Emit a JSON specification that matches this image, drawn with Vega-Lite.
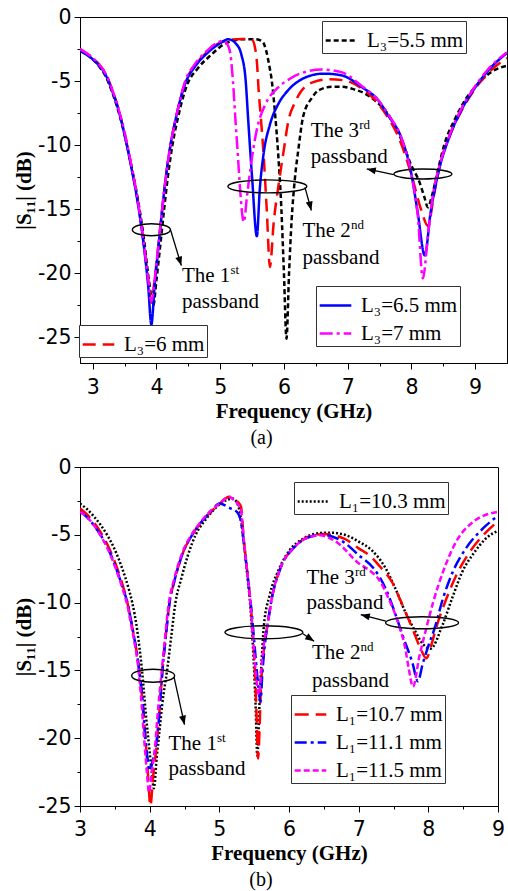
{
  "$schema": "https://vega.github.io/schema/vega-lite/v6.json",
  "background": "white",
  "padding": {"left": 13, "top": 6, "right": 5, "bottom": 5},
  "spacing": 8,
  "config": {
    "view": {"stroke": "black", "strokeWidth": 1},
    "axis": {
      "grid": false, "domainColor": "black", "domainWidth": 1, "tickColor": "black", "tickWidth": 1,
      "labelFont": "DejaVu Sans", "labelFontSize": 20.5, "labelColor": "black",
      "labelFlush": false, "labelOverlap": false, "labelBound": false,
      "titleFont": "Liberation Serif", "titleFontSize": 21, "titleFontWeight": "bold", "titleColor": "black"
    },
    "legend": {
      "symbolType": "stroke", "symbolSize": 1000, "symbolStrokeWidth": 2.5,
      "labelFont": "Liberation Serif", "labelFontSize": 21, "labelColor": "black", "labelLimit": 400,
      "strokeColor": "#333333", "fillColor": "white", "padding": 2, "rowPadding": 0, "labelOffset": 8
    },
    "title": {"font": "Liberation Serif", "fontSize": 20, "fontWeight": "normal", "color": "black"}
  },
  "datasets": {
    "a1": [
      {"s":"L₃=5.5 mm","x":2.8,"y":-2.6},{"s":"L₃=5.5 mm","x":3.0,"y":-3.3},{"s":"L₃=5.5 mm","x":3.1,"y":-3.85},{"s":"L₃=5.5 mm","x":3.2,"y":-4.6},{"s":"L₃=5.5 mm","x":3.3,"y":-5.8},{"s":"L₃=5.5 mm","x":3.4,"y":-7.3},{"s":"L₃=5.5 mm","x":3.5,"y":-9.2},{"s":"L₃=5.5 mm","x":3.6,"y":-11.5},{"s":"L₃=5.5 mm","x":3.7,"y":-14.0},{"s":"L₃=5.5 mm","x":3.8,"y":-17.2},{"s":"L₃=5.5 mm","x":3.88,"y":-20.5},{"s":"L₃=5.5 mm","x":3.95,"y":-22.5},{"s":"L₃=5.5 mm","x":4.0,"y":-20.5},{"s":"L₃=5.5 mm","x":4.06,"y":-17.8},{"s":"L₃=5.5 mm","x":4.12,"y":-15},{"s":"L₃=5.5 mm","x":4.18,"y":-12.4},{"s":"L₃=5.5 mm","x":4.25,"y":-10},{"s":"L₃=5.5 mm","x":4.33,"y":-8.0},{"s":"L₃=5.5 mm","x":4.48,"y":-5.3},{"s":"L₃=5.5 mm","x":4.65,"y":-4.0},{"s":"L₃=5.5 mm","x":4.87,"y":-2.9},{"s":"L₃=5.5 mm","x":5.05,"y":-2.15},{"s":"L₃=5.5 mm","x":5.2,"y":-1.85},{"s":"L₃=5.5 mm","x":5.35,"y":-1.74},{"s":"L₃=5.5 mm","x":5.55,"y":-1.74},{"s":"L₃=5.5 mm","x":5.66,"y":-1.9},{"s":"L₃=5.5 mm","x":5.72,"y":-2.6},{"s":"L₃=5.5 mm","x":5.77,"y":-3.8},{"s":"L₃=5.5 mm","x":5.81,"y":-5.0},{"s":"L₃=5.5 mm","x":5.86,"y":-7.5},{"s":"L₃=5.5 mm","x":5.91,"y":-10.7},{"s":"L₃=5.5 mm","x":5.96,"y":-15},{"s":"L₃=5.5 mm","x":6.0,"y":-20},{"s":"L₃=5.5 mm","x":6.04,"y":-25.1},{"s":"L₃=5.5 mm","x":6.08,"y":-20},{"s":"L₃=5.5 mm","x":6.12,"y":-15.9},{"s":"L₃=5.5 mm","x":6.17,"y":-12.7},{"s":"L₃=5.5 mm","x":6.23,"y":-10.2},{"s":"L₃=5.5 mm","x":6.3,"y":-7.8},{"s":"L₃=5.5 mm","x":6.44,"y":-6.3},{"s":"L₃=5.5 mm","x":6.55,"y":-5.7},{"s":"L₃=5.5 mm","x":6.75,"y":-5.45},{"s":"L₃=5.5 mm","x":6.92,"y":-5.45},{"s":"L₃=5.5 mm","x":7.1,"y":-5.65},{"s":"L₃=5.5 mm","x":7.28,"y":-6.0},{"s":"L₃=5.5 mm","x":7.45,"y":-6.6},{"s":"L₃=5.5 mm","x":7.59,"y":-7.3},{"s":"L₃=5.5 mm","x":7.72,"y":-8.3},{"s":"L₃=5.5 mm","x":7.85,"y":-9.66},{"s":"L₃=5.5 mm","x":8.0,"y":-11.6},{"s":"L₃=5.5 mm","x":8.12,"y":-12.8},{"s":"L₃=5.5 mm","x":8.2,"y":-14.0},{"s":"L₃=5.5 mm","x":8.26,"y":-14.85},{"s":"L₃=5.5 mm","x":8.32,"y":-14.0},{"s":"L₃=5.5 mm","x":8.4,"y":-12.3},{"s":"L₃=5.5 mm","x":8.52,"y":-9.9},{"s":"L₃=5.5 mm","x":8.68,"y":-8.0},{"s":"L₃=5.5 mm","x":8.84,"y":-6.5},{"s":"L₃=5.5 mm","x":9.05,"y":-5.2},{"s":"L₃=5.5 mm","x":9.25,"y":-4.3},{"s":"L₃=5.5 mm","x":9.5,"y":-3.8}
    ],
    "a2": [
      {"s":"L₃=6 mm","x":2.8,"y":-2.5},{"s":"L₃=6 mm","x":3.0,"y":-3.2},{"s":"L₃=6 mm","x":3.1,"y":-3.7},{"s":"L₃=6 mm","x":3.2,"y":-4.4},{"s":"L₃=6 mm","x":3.3,"y":-5.6},{"s":"L₃=6 mm","x":3.4,"y":-7.1},{"s":"L₃=6 mm","x":3.5,"y":-9.1},{"s":"L₃=6 mm","x":3.6,"y":-11.5},{"s":"L₃=6 mm","x":3.7,"y":-14.2},{"s":"L₃=6 mm","x":3.8,"y":-17.7},{"s":"L₃=6 mm","x":3.87,"y":-20.5},{"s":"L₃=6 mm","x":3.92,"y":-22.3},{"s":"L₃=6 mm","x":3.97,"y":-20.5},{"s":"L₃=6 mm","x":4.03,"y":-17.8},{"s":"L₃=6 mm","x":4.09,"y":-15},{"s":"L₃=6 mm","x":4.15,"y":-12.4},{"s":"L₃=6 mm","x":4.22,"y":-10},{"s":"L₃=6 mm","x":4.3,"y":-8.0},{"s":"L₃=6 mm","x":4.45,"y":-5.1},{"s":"L₃=6 mm","x":4.6,"y":-3.8},{"s":"L₃=6 mm","x":4.8,"y":-2.7},{"s":"L₃=6 mm","x":5.0,"y":-2.0},{"s":"L₃=6 mm","x":5.18,"y":-1.76},{"s":"L₃=6 mm","x":5.35,"y":-1.72},{"s":"L₃=6 mm","x":5.5,"y":-1.8},{"s":"L₃=6 mm","x":5.55,"y":-2.5},{"s":"L₃=6 mm","x":5.58,"y":-3.8},{"s":"L₃=6 mm","x":5.6,"y":-5.5},{"s":"L₃=6 mm","x":5.64,"y":-8.0},{"s":"L₃=6 mm","x":5.68,"y":-10.7},{"s":"L₃=6 mm","x":5.73,"y":-15},{"s":"L₃=6 mm","x":5.78,"y":-19.5},{"s":"L₃=6 mm","x":5.84,"y":-16},{"s":"L₃=6 mm","x":5.91,"y":-13.3},{"s":"L₃=6 mm","x":6.0,"y":-10.3},{"s":"L₃=6 mm","x":6.07,"y":-8.1},{"s":"L₃=6 mm","x":6.17,"y":-6.7},{"s":"L₃=6 mm","x":6.27,"y":-5.8},{"s":"L₃=6 mm","x":6.45,"y":-5.1},{"s":"L₃=6 mm","x":6.71,"y":-4.85},{"s":"L₃=6 mm","x":6.95,"y":-4.95},{"s":"L₃=6 mm","x":7.23,"y":-5.6},{"s":"L₃=6 mm","x":7.45,"y":-6.6},{"s":"L₃=6 mm","x":7.6,"y":-7.6},{"s":"L₃=6 mm","x":7.8,"y":-9.4},{"s":"L₃=6 mm","x":8.0,"y":-12.3},{"s":"L₃=6 mm","x":8.15,"y":-15.0},{"s":"L₃=6 mm","x":8.26,"y":-16.3},{"s":"L₃=6 mm","x":8.35,"y":-14.0},{"s":"L₃=6 mm","x":8.45,"y":-11.5},{"s":"L₃=6 mm","x":8.6,"y":-9.3},{"s":"L₃=6 mm","x":8.8,"y":-7.2},{"s":"L₃=6 mm","x":9.0,"y":-5.6},{"s":"L₃=6 mm","x":9.2,"y":-4.4},{"s":"L₃=6 mm","x":9.5,"y":-3.2}
    ],
    "a3": [
      {"s":"L₃=6.5 mm","x":2.8,"y":-2.65},{"s":"L₃=6.5 mm","x":3.0,"y":-3.3},{"s":"L₃=6.5 mm","x":3.1,"y":-3.8},{"s":"L₃=6.5 mm","x":3.2,"y":-4.5},{"s":"L₃=6.5 mm","x":3.3,"y":-5.7},{"s":"L₃=6.5 mm","x":3.4,"y":-7.2},{"s":"L₃=6.5 mm","x":3.5,"y":-9.2},{"s":"L₃=6.5 mm","x":3.6,"y":-11.6},{"s":"L₃=6.5 mm","x":3.7,"y":-14.3},{"s":"L₃=6.5 mm","x":3.8,"y":-17.8},{"s":"L₃=6.5 mm","x":3.87,"y":-21},{"s":"L₃=6.5 mm","x":3.92,"y":-24.0},{"s":"L₃=6.5 mm","x":3.97,"y":-21},{"s":"L₃=6.5 mm","x":4.03,"y":-18},{"s":"L₃=6.5 mm","x":4.09,"y":-15},{"s":"L₃=6.5 mm","x":4.15,"y":-12.4},{"s":"L₃=6.5 mm","x":4.22,"y":-10},{"s":"L₃=6.5 mm","x":4.3,"y":-8.0},{"s":"L₃=6.5 mm","x":4.45,"y":-5.2},{"s":"L₃=6.5 mm","x":4.6,"y":-3.9},{"s":"L₃=6.5 mm","x":4.8,"y":-2.8},{"s":"L₃=6.5 mm","x":5.0,"y":-2.05},{"s":"L₃=6.5 mm","x":5.13,"y":-1.74},{"s":"L₃=6.5 mm","x":5.25,"y":-2.1},{"s":"L₃=6.5 mm","x":5.33,"y":-2.9},{"s":"L₃=6.5 mm","x":5.4,"y":-5.0},{"s":"L₃=6.5 mm","x":5.44,"y":-8.1},{"s":"L₃=6.5 mm","x":5.5,"y":-12.5},{"s":"L₃=6.5 mm","x":5.575,"y":-17.1},{"s":"L₃=6.5 mm","x":5.62,"y":-13.5},{"s":"L₃=6.5 mm","x":5.68,"y":-10.7},{"s":"L₃=6.5 mm","x":5.78,"y":-8.4},{"s":"L₃=6.5 mm","x":5.91,"y":-6.8},{"s":"L₃=6.5 mm","x":6.05,"y":-5.8},{"s":"L₃=6.5 mm","x":6.23,"y":-5.0},{"s":"L₃=6.5 mm","x":6.4,"y":-4.6},{"s":"L₃=6.5 mm","x":6.62,"y":-4.42},{"s":"L₃=6.5 mm","x":6.9,"y":-4.55},{"s":"L₃=6.5 mm","x":7.23,"y":-5.5},{"s":"L₃=6.5 mm","x":7.48,"y":-6.5},{"s":"L₃=6.5 mm","x":7.65,"y":-7.8},{"s":"L₃=6.5 mm","x":7.84,"y":-9.4},{"s":"L₃=6.5 mm","x":8.0,"y":-12.25},{"s":"L₃=6.5 mm","x":8.1,"y":-15.3},{"s":"L₃=6.5 mm","x":8.21,"y":-18.6},{"s":"L₃=6.5 mm","x":8.3,"y":-15.3},{"s":"L₃=6.5 mm","x":8.42,"y":-12.2},{"s":"L₃=6.5 mm","x":8.6,"y":-9.3},{"s":"L₃=6.5 mm","x":8.78,"y":-7.3},{"s":"L₃=6.5 mm","x":9.0,"y":-5.5},{"s":"L₃=6.5 mm","x":9.2,"y":-4.2},{"s":"L₃=6.5 mm","x":9.5,"y":-2.8},
      {"s":"L₃=7 mm","x":2.8,"y":-2.5},{"s":"L₃=7 mm","x":3.0,"y":-3.2},{"s":"L₃=7 mm","x":3.1,"y":-3.7},{"s":"L₃=7 mm","x":3.2,"y":-4.4},{"s":"L₃=7 mm","x":3.3,"y":-5.6},{"s":"L₃=7 mm","x":3.4,"y":-7.1},{"s":"L₃=7 mm","x":3.5,"y":-9.0},{"s":"L₃=7 mm","x":3.6,"y":-11.4},{"s":"L₃=7 mm","x":3.7,"y":-14.1},{"s":"L₃=7 mm","x":3.8,"y":-17.6},{"s":"L₃=7 mm","x":3.87,"y":-20.5},{"s":"L₃=7 mm","x":3.92,"y":-22.2},{"s":"L₃=7 mm","x":3.97,"y":-20.5},{"s":"L₃=7 mm","x":4.03,"y":-17.8},{"s":"L₃=7 mm","x":4.09,"y":-15},{"s":"L₃=7 mm","x":4.15,"y":-12.4},{"s":"L₃=7 mm","x":4.22,"y":-10},{"s":"L₃=7 mm","x":4.3,"y":-8.0},{"s":"L₃=7 mm","x":4.45,"y":-5.0},{"s":"L₃=7 mm","x":4.6,"y":-3.7},{"s":"L₃=7 mm","x":4.8,"y":-2.6},{"s":"L₃=7 mm","x":4.95,"y":-2.0},{"s":"L₃=7 mm","x":5.05,"y":-1.85},{"s":"L₃=7 mm","x":5.12,"y":-2.2},{"s":"L₃=7 mm","x":5.16,"y":-2.9},{"s":"L₃=7 mm","x":5.2,"y":-5.0},{"s":"L₃=7 mm","x":5.24,"y":-8.1},{"s":"L₃=7 mm","x":5.28,"y":-11},{"s":"L₃=7 mm","x":5.31,"y":-13.3},{"s":"L₃=7 mm","x":5.37,"y":-16.0},{"s":"L₃=7 mm","x":5.42,"y":-14},{"s":"L₃=7 mm","x":5.47,"y":-12},{"s":"L₃=7 mm","x":5.57,"y":-8.9},{"s":"L₃=7 mm","x":5.71,"y":-6.8},{"s":"L₃=7 mm","x":5.91,"y":-5.5},{"s":"L₃=7 mm","x":6.1,"y":-4.8},{"s":"L₃=7 mm","x":6.23,"y":-4.46},{"s":"L₃=7 mm","x":6.6,"y":-4.1},{"s":"L₃=7 mm","x":6.9,"y":-4.3},{"s":"L₃=7 mm","x":7.2,"y":-5.3},{"s":"L₃=7 mm","x":7.48,"y":-6.5},{"s":"L₃=7 mm","x":7.65,"y":-7.7},{"s":"L₃=7 mm","x":7.84,"y":-9.4},{"s":"L₃=7 mm","x":8.0,"y":-12.3},{"s":"L₃=7 mm","x":8.1,"y":-15.5},{"s":"L₃=7 mm","x":8.18,"y":-20.4},{"s":"L₃=7 mm","x":8.26,"y":-17},{"s":"L₃=7 mm","x":8.35,"y":-13.5},{"s":"L₃=7 mm","x":8.42,"y":-12},{"s":"L₃=7 mm","x":8.6,"y":-9.2},{"s":"L₃=7 mm","x":8.78,"y":-7.2},{"s":"L₃=7 mm","x":9.0,"y":-5.4},{"s":"L₃=7 mm","x":9.2,"y":-4.1},{"s":"L₃=7 mm","x":9.5,"y":-2.75}
    ],
    "b1": [
      {"s":"L₁=10.3 mm","x":3.0,"y":-2.7},{"s":"L₁=10.3 mm","x":3.1,"y":-3.1},{"s":"L₁=10.3 mm","x":3.2,"y":-3.65},{"s":"L₁=10.3 mm","x":3.3,"y":-4.3},{"s":"L₁=10.3 mm","x":3.4,"y":-5.1},{"s":"L₁=10.3 mm","x":3.5,"y":-6.1},{"s":"L₁=10.3 mm","x":3.6,"y":-7.4},{"s":"L₁=10.3 mm","x":3.7,"y":-9.0},{"s":"L₁=10.3 mm","x":3.75,"y":-10.0},{"s":"L₁=10.3 mm","x":3.82,"y":-12.0},{"s":"L₁=10.3 mm","x":3.89,"y":-15.0},{"s":"L₁=10.3 mm","x":3.95,"y":-18.5},{"s":"L₁=10.3 mm","x":3.99,"y":-20.5},{"s":"L₁=10.3 mm","x":4.03,"y":-22.5},{"s":"L₁=10.3 mm","x":4.06,"y":-23.7},{"s":"L₁=10.3 mm","x":4.1,"y":-21.5},{"s":"L₁=10.3 mm","x":4.14,"y":-19.5},{"s":"L₁=10.3 mm","x":4.18,"y":-17.5},{"s":"L₁=10.3 mm","x":4.25,"y":-15.0},{"s":"L₁=10.3 mm","x":4.31,"y":-12.5},{"s":"L₁=10.3 mm","x":4.37,"y":-10.0},{"s":"L₁=10.3 mm","x":4.45,"y":-8.3},{"s":"L₁=10.3 mm","x":4.55,"y":-6.5},{"s":"L₁=10.3 mm","x":4.66,"y":-5.0},{"s":"L₁=10.3 mm","x":4.8,"y":-3.9},{"s":"L₁=10.3 mm","x":4.95,"y":-3.0},{"s":"L₁=10.3 mm","x":5.1,"y":-2.45},{"s":"L₁=10.3 mm","x":5.19,"y":-2.33},{"s":"L₁=10.3 mm","x":5.25,"y":-2.6},{"s":"L₁=10.3 mm","x":5.3,"y":-3.5},{"s":"L₁=10.3 mm","x":5.35,"y":-5.5},{"s":"L₁=10.3 mm","x":5.4,"y":-7.8},{"s":"L₁=10.3 mm","x":5.45,"y":-10.6},{"s":"L₁=10.3 mm","x":5.49,"y":-14},{"s":"L₁=10.3 mm","x":5.52,"y":-17.5},{"s":"L₁=10.3 mm","x":5.545,"y":-21.3},{"s":"L₁=10.3 mm","x":5.58,"y":-17},{"s":"L₁=10.3 mm","x":5.61,"y":-14},{"s":"L₁=10.3 mm","x":5.64,"y":-11.7},{"s":"L₁=10.3 mm","x":5.72,"y":-9.5},{"s":"L₁=10.3 mm","x":5.85,"y":-7.6},{"s":"L₁=10.3 mm","x":6.0,"y":-6.2},{"s":"L₁=10.3 mm","x":6.2,"y":-5.3},{"s":"L₁=10.3 mm","x":6.4,"y":-4.9},{"s":"L₁=10.3 mm","x":6.58,"y":-4.84},{"s":"L₁=10.3 mm","x":6.8,"y":-5.0},{"s":"L₁=10.3 mm","x":7.0,"y":-5.5},{"s":"L₁=10.3 mm","x":7.19,"y":-6.15},{"s":"L₁=10.3 mm","x":7.39,"y":-7.5},{"s":"L₁=10.3 mm","x":7.53,"y":-9.0},{"s":"L₁=10.3 mm","x":7.67,"y":-10.7},{"s":"L₁=10.3 mm","x":7.79,"y":-11.9},{"s":"L₁=10.3 mm","x":7.93,"y":-13.1},{"s":"L₁=10.3 mm","x":8.03,"y":-13.4},{"s":"L₁=10.3 mm","x":8.2,"y":-11.7},{"s":"L₁=10.3 mm","x":8.34,"y":-9.7},{"s":"L₁=10.3 mm","x":8.49,"y":-7.7},{"s":"L₁=10.3 mm","x":8.66,"y":-6.3},{"s":"L₁=10.3 mm","x":8.82,"y":-5.3},{"s":"L₁=10.3 mm","x":9.0,"y":-4.7}
    ],
    "b2": [
      {"s":"L₁=10.7 mm","x":3.0,"y":-3.05},{"s":"L₁=10.7 mm","x":3.1,"y":-3.5},{"s":"L₁=10.7 mm","x":3.2,"y":-4.1},{"s":"L₁=10.7 mm","x":3.3,"y":-4.85},{"s":"L₁=10.7 mm","x":3.4,"y":-5.8},{"s":"L₁=10.7 mm","x":3.5,"y":-7.0},{"s":"L₁=10.7 mm","x":3.6,"y":-8.5},{"s":"L₁=10.7 mm","x":3.68,"y":-10.0},{"s":"L₁=10.7 mm","x":3.75,"y":-11.8},{"s":"L₁=10.7 mm","x":3.85,"y":-15.0},{"s":"L₁=10.7 mm","x":3.9,"y":-17.5},{"s":"L₁=10.7 mm","x":3.94,"y":-20.0},{"s":"L₁=10.7 mm","x":3.98,"y":-23},{"s":"L₁=10.7 mm","x":4.01,"y":-25},{"s":"L₁=10.7 mm","x":4.05,"y":-22.8},{"s":"L₁=10.7 mm","x":4.1,"y":-20.5},{"s":"L₁=10.7 mm","x":4.14,"y":-18},{"s":"L₁=10.7 mm","x":4.18,"y":-15.2},{"s":"L₁=10.7 mm","x":4.23,"y":-12.5},{"s":"L₁=10.7 mm","x":4.28,"y":-10.2},{"s":"L₁=10.7 mm","x":4.36,"y":-8.3},{"s":"L₁=10.7 mm","x":4.48,"y":-6.3},{"s":"L₁=10.7 mm","x":4.61,"y":-5.0},{"s":"L₁=10.7 mm","x":4.75,"y":-4.0},{"s":"L₁=10.7 mm","x":4.9,"y":-3.2},{"s":"L₁=10.7 mm","x":5.0,"y":-2.75},{"s":"L₁=10.7 mm","x":5.08,"y":-2.35},{"s":"L₁=10.7 mm","x":5.14,"y":-2.2},{"s":"L₁=10.7 mm","x":5.2,"y":-2.3},{"s":"L₁=10.7 mm","x":5.27,"y":-2.6},{"s":"L₁=10.7 mm","x":5.31,"y":-2.9},{"s":"L₁=10.7 mm","x":5.35,"y":-5.3},{"s":"L₁=10.7 mm","x":5.4,"y":-7.7},{"s":"L₁=10.7 mm","x":5.45,"y":-10.2},{"s":"L₁=10.7 mm","x":5.5,"y":-13.9},{"s":"L₁=10.7 mm","x":5.53,"y":-17.6},{"s":"L₁=10.7 mm","x":5.555,"y":-21.5},{"s":"L₁=10.7 mm","x":5.6,"y":-16},{"s":"L₁=10.7 mm","x":5.65,"y":-13},{"s":"L₁=10.7 mm","x":5.69,"y":-11.7},{"s":"L₁=10.7 mm","x":5.76,"y":-9.5},{"s":"L₁=10.7 mm","x":5.86,"y":-7.7},{"s":"L₁=10.7 mm","x":6.1,"y":-5.8},{"s":"L₁=10.7 mm","x":6.3,"y":-5.1},{"s":"L₁=10.7 mm","x":6.5,"y":-4.95},{"s":"L₁=10.7 mm","x":6.8,"y":-5.3},{"s":"L₁=10.7 mm","x":7.0,"y":-6.0},{"s":"L₁=10.7 mm","x":7.15,"y":-6.5},{"s":"L₁=10.7 mm","x":7.29,"y":-7.25},{"s":"L₁=10.7 mm","x":7.48,"y":-8.5},{"s":"L₁=10.7 mm","x":7.63,"y":-10.2},{"s":"L₁=10.7 mm","x":7.77,"y":-11.9},{"s":"L₁=10.7 mm","x":7.89,"y":-13.4},{"s":"L₁=10.7 mm","x":7.97,"y":-14.1},{"s":"L₁=10.7 mm","x":8.05,"y":-13.0},{"s":"L₁=10.7 mm","x":8.11,"y":-11.9},{"s":"L₁=10.7 mm","x":8.26,"y":-9.7},{"s":"L₁=10.7 mm","x":8.4,"y":-8.0},{"s":"L₁=10.7 mm","x":8.59,"y":-6.3},{"s":"L₁=10.7 mm","x":8.83,"y":-4.8},{"s":"L₁=10.7 mm","x":9.0,"y":-4.0},
      {"s":"L₁=11.1 mm","x":3.0,"y":-3.3},{"s":"L₁=11.1 mm","x":3.1,"y":-3.7},{"s":"L₁=11.1 mm","x":3.2,"y":-4.3},{"s":"L₁=11.1 mm","x":3.3,"y":-5.05},{"s":"L₁=11.1 mm","x":3.4,"y":-6.0},{"s":"L₁=11.1 mm","x":3.5,"y":-7.2},{"s":"L₁=11.1 mm","x":3.6,"y":-8.7},{"s":"L₁=11.1 mm","x":3.68,"y":-10.0},{"s":"L₁=11.1 mm","x":3.75,"y":-11.8},{"s":"L₁=11.1 mm","x":3.85,"y":-15},{"s":"L₁=11.1 mm","x":3.9,"y":-17.3},{"s":"L₁=11.1 mm","x":3.93,"y":-19.5},{"s":"L₁=11.1 mm","x":3.97,"y":-21.5},{"s":"L₁=11.1 mm","x":4.0,"y":-22.4},{"s":"L₁=11.1 mm","x":4.05,"y":-21.5},{"s":"L₁=11.1 mm","x":4.11,"y":-19.8},{"s":"L₁=11.1 mm","x":4.15,"y":-17.5},{"s":"L₁=11.1 mm","x":4.18,"y":-15.2},{"s":"L₁=11.1 mm","x":4.23,"y":-12.6},{"s":"L₁=11.1 mm","x":4.28,"y":-10.2},{"s":"L₁=11.1 mm","x":4.36,"y":-8.3},{"s":"L₁=11.1 mm","x":4.48,"y":-6.3},{"s":"L₁=11.1 mm","x":4.61,"y":-5.0},{"s":"L₁=11.1 mm","x":4.75,"y":-4.0},{"s":"L₁=11.1 mm","x":4.88,"y":-3.3},{"s":"L₁=11.1 mm","x":5.0,"y":-2.7},{"s":"L₁=11.1 mm","x":5.16,"y":-3.05},{"s":"L₁=11.1 mm","x":5.25,"y":-3.3},{"s":"L₁=11.1 mm","x":5.3,"y":-3.8},{"s":"L₁=11.1 mm","x":5.35,"y":-5.5},{"s":"L₁=11.1 mm","x":5.4,"y":-7.8},{"s":"L₁=11.1 mm","x":5.46,"y":-10.5},{"s":"L₁=11.1 mm","x":5.52,"y":-14},{"s":"L₁=11.1 mm","x":5.56,"y":-16.2},{"s":"L₁=11.1 mm","x":5.59,"y":-17.3},{"s":"L₁=11.1 mm","x":5.62,"y":-15},{"s":"L₁=11.1 mm","x":5.66,"y":-12.8},{"s":"L₁=11.1 mm","x":5.69,"y":-11.7},{"s":"L₁=11.1 mm","x":5.76,"y":-9.5},{"s":"L₁=11.1 mm","x":5.86,"y":-7.7},{"s":"L₁=11.1 mm","x":6.1,"y":-5.8},{"s":"L₁=11.1 mm","x":6.3,"y":-5.15},{"s":"L₁=11.1 mm","x":6.47,"y":-5.0},{"s":"L₁=11.1 mm","x":6.8,"y":-5.6},{"s":"L₁=11.1 mm","x":7.0,"y":-6.5},{"s":"L₁=11.1 mm","x":7.22,"y":-7.5},{"s":"L₁=11.1 mm","x":7.39,"y":-9.0},{"s":"L₁=11.1 mm","x":7.53,"y":-10.9},{"s":"L₁=11.1 mm","x":7.65,"y":-12.7},{"s":"L₁=11.1 mm","x":7.77,"y":-14.4},{"s":"L₁=11.1 mm","x":7.85,"y":-15.8},{"s":"L₁=11.1 mm","x":7.92,"y":-14.5},{"s":"L₁=11.1 mm","x":8.0,"y":-13.2},{"s":"L₁=11.1 mm","x":8.09,"y":-11.9},{"s":"L₁=11.1 mm","x":8.21,"y":-9.7},{"s":"L₁=11.1 mm","x":8.35,"y":-7.74},{"s":"L₁=11.1 mm","x":8.54,"y":-6.0},{"s":"L₁=11.1 mm","x":8.78,"y":-4.55},{"s":"L₁=11.1 mm","x":9.0,"y":-3.6},
      {"s":"L₁=11.5 mm","x":3.0,"y":-3.3},{"s":"L₁=11.5 mm","x":3.1,"y":-3.7},{"s":"L₁=11.5 mm","x":3.2,"y":-4.3},{"s":"L₁=11.5 mm","x":3.3,"y":-5.1},{"s":"L₁=11.5 mm","x":3.4,"y":-6.05},{"s":"L₁=11.5 mm","x":3.5,"y":-7.3},{"s":"L₁=11.5 mm","x":3.6,"y":-8.8},{"s":"L₁=11.5 mm","x":3.67,"y":-10.0},{"s":"L₁=11.5 mm","x":3.74,"y":-11.8},{"s":"L₁=11.5 mm","x":3.84,"y":-15},{"s":"L₁=11.5 mm","x":3.88,"y":-17.2},{"s":"L₁=11.5 mm","x":3.92,"y":-20},{"s":"L₁=11.5 mm","x":3.96,"y":-22.5},{"s":"L₁=11.5 mm","x":3.99,"y":-24.0},{"s":"L₁=11.5 mm","x":4.03,"y":-22.5},{"s":"L₁=11.5 mm","x":4.08,"y":-20.5},{"s":"L₁=11.5 mm","x":4.11,"y":-18.5},{"s":"L₁=11.5 mm","x":4.17,"y":-15.2},{"s":"L₁=11.5 mm","x":4.22,"y":-12.6},{"s":"L₁=11.5 mm","x":4.27,"y":-10.2},{"s":"L₁=11.5 mm","x":4.35,"y":-8.3},{"s":"L₁=11.5 mm","x":4.47,"y":-6.3},{"s":"L₁=11.5 mm","x":4.6,"y":-5.0},{"s":"L₁=11.5 mm","x":4.74,"y":-4.0},{"s":"L₁=11.5 mm","x":4.88,"y":-3.2},{"s":"L₁=11.5 mm","x":5.0,"y":-2.7},{"s":"L₁=11.5 mm","x":5.08,"y":-2.35},{"s":"L₁=11.5 mm","x":5.14,"y":-2.2},{"s":"L₁=11.5 mm","x":5.2,"y":-2.4},{"s":"L₁=11.5 mm","x":5.26,"y":-2.7},{"s":"L₁=11.5 mm","x":5.31,"y":-3.2},{"s":"L₁=11.5 mm","x":5.35,"y":-5.3},{"s":"L₁=11.5 mm","x":5.4,"y":-7.7},{"s":"L₁=11.5 mm","x":5.45,"y":-10.2},{"s":"L₁=11.5 mm","x":5.5,"y":-13.7},{"s":"L₁=11.5 mm","x":5.54,"y":-16},{"s":"L₁=11.5 mm","x":5.57,"y":-16.8},{"s":"L₁=11.5 mm","x":5.6,"y":-15},{"s":"L₁=11.5 mm","x":5.64,"y":-13},{"s":"L₁=11.5 mm","x":5.69,"y":-11.7},{"s":"L₁=11.5 mm","x":5.76,"y":-9.5},{"s":"L₁=11.5 mm","x":5.86,"y":-7.7},{"s":"L₁=11.5 mm","x":6.1,"y":-5.8},{"s":"L₁=11.5 mm","x":6.3,"y":-5.15},{"s":"L₁=11.5 mm","x":6.44,"y":-5.04},{"s":"L₁=11.5 mm","x":6.7,"y":-5.6},{"s":"L₁=11.5 mm","x":7.0,"y":-7.1},{"s":"L₁=11.5 mm","x":7.15,"y":-7.6},{"s":"L₁=11.5 mm","x":7.29,"y":-8.3},{"s":"L₁=11.5 mm","x":7.43,"y":-9.7},{"s":"L₁=11.5 mm","x":7.58,"y":-11.7},{"s":"L₁=11.5 mm","x":7.67,"y":-13.4},{"s":"L₁=11.5 mm","x":7.72,"y":-14.9},{"s":"L₁=11.5 mm","x":7.78,"y":-16.2},{"s":"L₁=11.5 mm","x":7.87,"y":-14.0},{"s":"L₁=11.5 mm","x":7.97,"y":-11.9},{"s":"L₁=11.5 mm","x":8.07,"y":-9.96},{"s":"L₁=11.5 mm","x":8.21,"y":-7.74},{"s":"L₁=11.5 mm","x":8.4,"y":-5.5},{"s":"L₁=11.5 mm","x":8.64,"y":-4.06},{"s":"L₁=11.5 mm","x":9.0,"y":-3.3}
    ],
    "ell_a": [{"x":3.92,"y":-16.6,"k":"ae1"},{"x":5.74,"y":-13.22,"k":"ae2"},{"x":8.18,"y":-12.25,"k":"ae3"}],
    "arr_a": [{"x":4.39,"y":-19.4,"x2":4.22,"y2":-16.6,"k":"ah1"},{"x":6.43,"y":-15.1,"x2":6.33,"y2":-13.3,"k":"ah2"},{"x":7.30,"y":-11.86,"x2":7.72,"y2":-12.3,"k":"ah3"}],
    "txt_a": [{"x":4.40,"y":-20.7,"t":"The 1","sup":"st"},{"x":4.40,"y":-22.74,"t":"passband"},{"x":6.29,"y":-17.19,"t":"The 2","sup":"nd"},{"x":6.29,"y":-19.26,"t":"passband"},{"x":6.42,"y":-9.35,"t":"The 3","sup":"rd"},{"x":6.42,"y":-11.39,"t":"passband"}],
    "ell_b": [{"x":4.05,"y":-15.39,"k":"be1"},{"x":5.64,"y":-12.19,"k":"be2"},{"x":7.91,"y":-11.49,"k":"be3"}],
    "arr_b": [{"x":4.50,"y":-19.0,"x2":4.35,"y2":-15.5,"k":"bh1"},{"x":6.36,"y":-12.85,"x2":6.2,"y2":-12.3,"k":"bh2"},{"x":7.03,"y":-10.89,"x2":7.39,"y2":-11.36,"k":"bh3"}],
    "txt_b": [{"x":4.27,"y":-20.89,"t":"The 1","sup":"st"},{"x":4.27,"y":-22.74,"t":"passband"},{"x":6.33,"y":-14.14,"t":"The 2","sup":"nd"},{"x":6.33,"y":-16.22,"t":"passband"},{"x":6.25,"y":-8.61,"t":"The 3","sup":"rd"},{"x":6.25,"y":-10.45,"t":"passband"}]
  },
  "vconcat": [
    {
      "width": 427, "height": 346,
      "title": {"text": "(a)", "orient": "bottom", "offset": 6, "dx": -32, "anchor": "middle"},
      "encoding": {
        "x": {"field": "x", "type": "quantitative", "scale": {"domain": [2.8, 9.5], "nice": false, "zero": false},
          "axis": {"title": "Frequency (GHz)", "values": [3,3.5,4,4.5,5,5.5,6,6.5,7,7.5,8,8.5,9],
            "labelExpr": "datum.value % 1 === 0 ? '' + datum.value : ''",
            "tickSize": {"condition": {"test": "datum.value % 1 === 0", "value": 6}, "value": 3},
            "labelPadding": 8, "titlePadding": 3}},
        "y": {"field": "y", "type": "quantitative", "scale": {"domain": [-27, 0], "nice": false, "zero": false},
          "axis": {"title": "|S₁₁| (dB)", "values": [-25,-22.5,-20,-17.5,-15,-12.5,-10,-7.5,-5,-2.5,0],
            "labelExpr": "datum.value % 5 === 0 ? '' + datum.value : ''",
            "tickSize": {"condition": {"test": "datum.value % 5 === 0", "value": 6}, "value": 3},
            "labelPadding": 3, "titlePadding": 3}}
      },
      "layer": [
        {"data": {"name": "a1"}, "mark": {"type": "line", "strokeWidth": 2.5, "interpolate": "monotone", "clip": true},
          "encoding": {
            "color": {"field": "s", "type": "nominal", "scale": {"domain": ["L₃=5.5 mm"], "range": ["#000000"]}, "legend": {"orient": "none", "legendX": 242, "legendY": 4, "title": null}},
            "strokeDash": {"field": "s", "type": "nominal", "scale": {"domain": ["L₃=5.5 mm"], "range": [[5, 3]]}, "legend": {"orient": "none", "legendX": 242, "legendY": 4, "title": null}}}},
        {"data": {"name": "a2"}, "mark": {"type": "line", "strokeWidth": 2.5, "interpolate": "monotone", "clip": true},
          "encoding": {
            "color": {"field": "s", "type": "nominal", "scale": {"domain": ["L₃=6 mm"], "range": ["#ff0000"]}, "legend": {"orient": "none", "legendX": -1, "legendY": 308, "title": null}},
            "strokeDash": {"field": "s", "type": "nominal", "scale": {"domain": ["L₃=6 mm"], "range": [[13, 7]]}, "legend": {"orient": "none", "legendX": -1, "legendY": 308, "title": null}}}},
        {"data": {"name": "a3"}, "mark": {"type": "line", "strokeWidth": 2.5, "interpolate": "monotone", "clip": true},
          "encoding": {
            "color": {"field": "s", "type": "nominal", "scale": {"domain": ["L₃=6.5 mm", "L₃=7 mm"], "range": ["#0000ff", "#ff00ff"]}, "legend": {"orient": "none", "legendX": 236, "legendY": 269, "title": null}},
            "strokeDash": {"field": "s", "type": "nominal", "scale": {"domain": ["L₃=6.5 mm", "L₃=7 mm"], "range": [[1, 0], [13, 4, 3, 4]]}, "legend": {"orient": "none", "legendX": 236, "legendY": 269, "title": null}}}},
        {"data": {"name": "ell_a"}, "mark": {"type": "point", "filled": false, "size": 4, "stroke": "black", "strokeWidth": 1.4, "opacity": 1},
          "encoding": {"shape": {"field": "k", "type": "nominal", "legend": null, "scale": {"domain": ["ae1", "ae2", "ae3"],
            "range": ["M-19,0A19,6,0,1,1,19,0A19,6,0,1,1,-19,0Z", "M-39.5,0A39.5,6.5,0,1,1,39.5,0A39.5,6.5,0,1,1,-39.5,0Z", "M-29,0A29,5,0,1,1,29,0A29,5,0,1,1,-29,0Z"]}}}},
        {"data": {"name": "arr_a"}, "mark": {"type": "rule", "stroke": "black", "strokeWidth": 1.3},
          "encoding": {"x2": {"field": "x2"}, "y2": {"field": "y2"}}},
        {"data": {"name": "arr_a"}, "mark": {"type": "point", "filled": true, "size": 4, "color": "black", "opacity": 1},
          "encoding": {"shape": {"field": "k", "type": "nominal", "legend": null, "scale": {"domain": ["ah1", "ah2", "ah3"],
            "range": ["M0,0L-6,-7.6L0.7,-9.6Z", "M0,0L-5.6,-7.9L1.2,-9.6Z", "M0,0L9.5,-1.6L8.1,5.3Z"]}}}},
        {"data": {"name": "txt_a"}, "mark": {"type": "text", "font": "Liberation Serif", "fontSize": 21, "align": "left", "baseline": "alphabetic", "color": "black"},
          "encoding": {"text": {"field": "t"}}},
        {"data": {"name": "txt_a"}, "transform": [{"filter": "datum.sup"}], "mark": {"type": "text", "font": "Liberation Serif", "fontSize": 13, "align": "left", "baseline": "alphabetic", "color": "black", "dx": 48.5, "dy": -8},
          "encoding": {"text": {"field": "sup"}}}
      ],
      "resolve": {"scale": {"color": "independent", "strokeDash": "independent", "shape": "independent"}}
    },
    {
      "width": 418, "height": 339,
      "title": {"text": "(b)", "orient": "bottom", "offset": 6, "dx": -28, "anchor": "middle"},
      "encoding": {
        "x": {"field": "x", "type": "quantitative", "scale": {"domain": [3, 9], "nice": false, "zero": false},
          "axis": {"title": "Frequency (GHz)", "values": [3,3.5,4,4.5,5,5.5,6,6.5,7,7.5,8,8.5,9],
            "labelExpr": "datum.value % 1 === 0 ? '' + datum.value : ''",
            "tickSize": {"condition": {"test": "datum.value % 1 === 0", "value": 6}, "value": 3},
            "labelPadding": 7, "titlePadding": 3}},
        "y": {"field": "y", "type": "quantitative", "scale": {"domain": [-25, 0], "nice": false, "zero": false},
          "axis": {"title": "|S₁₁| (dB)", "values": [-25,-22.5,-20,-17.5,-15,-12.5,-10,-7.5,-5,-2.5,0],
            "labelExpr": "datum.value % 5 === 0 ? '' + datum.value : ''",
            "tickSize": {"condition": {"test": "datum.value % 5 === 0", "value": 6}, "value": 3},
            "labelPadding": 3, "titlePadding": 3}}
      },
      "layer": [
        {"data": {"name": "b1"}, "mark": {"type": "line", "strokeWidth": 2.5, "interpolate": "monotone", "clip": true},
          "encoding": {
            "color": {"field": "s", "type": "nominal", "scale": {"domain": ["L₁=10.3 mm"], "range": ["#000000"]}, "legend": {"orient": "none", "legendX": 214, "legendY": 15, "title": null}},
            "strokeDash": {"field": "s", "type": "nominal", "scale": {"domain": ["L₁=10.3 mm"], "range": [[2, 2]]}, "legend": {"orient": "none", "legendX": 214, "legendY": 15, "title": null}}}},
        {"data": {"name": "b2"}, "mark": {"type": "line", "strokeWidth": 2.5, "interpolate": "monotone", "clip": true},
          "encoding": {
            "color": {"field": "s", "type": "nominal", "scale": {"domain": ["L₁=10.7 mm", "L₁=11.1 mm", "L₁=11.5 mm"], "range": ["#ff0000", "#0000ff", "#ff00ff"]}, "legend": {"orient": "none", "legendX": 211, "legendY": 228, "title": null}},
            "strokeDash": {"field": "s", "type": "nominal", "scale": {"domain": ["L₁=10.7 mm", "L₁=11.1 mm", "L₁=11.5 mm"], "range": [[14, 7], [12, 4, 3, 4], [6, 3]]}, "legend": {"orient": "none", "legendX": 211, "legendY": 228, "title": null}}}},
        {"data": {"name": "ell_b"}, "mark": {"type": "point", "filled": false, "size": 4, "stroke": "black", "strokeWidth": 1.4, "opacity": 1},
          "encoding": {"shape": {"field": "k", "type": "nominal", "legend": null, "scale": {"domain": ["be1", "be2", "be3"],
            "range": ["M-21.5,0A21.5,6.5,0,1,1,21.5,0A21.5,6.5,0,1,1,-21.5,0Z", "M-39,0A39,6.5,0,1,1,39,0A39,6.5,0,1,1,-39,0Z", "M-36.5,0A36.5,6,0,1,1,36.5,0A36.5,6,0,1,1,-36.5,0Z"]}}}},
        {"data": {"name": "arr_b"}, "mark": {"type": "rule", "stroke": "black", "strokeWidth": 1.3},
          "encoding": {"x2": {"field": "x2"}, "y2": {"field": "y2"}}},
        {"data": {"name": "arr_b"}, "mark": {"type": "point", "filled": true, "size": 4, "color": "black", "opacity": 1},
          "encoding": {"shape": {"field": "k", "type": "nominal", "legend": null, "scale": {"domain": ["bh1", "bh2", "bh3"],
            "range": ["M0,0L-5.4,-8L1.4,-9.6Z", "M0,0L-9.4,-2.1L-5.6,-7.9Z", "M0,0L9.6,-1.2L7.9,5.6Z"]}}}},
        {"data": {"name": "txt_b"}, "mark": {"type": "text", "font": "Liberation Serif", "fontSize": 21, "align": "left", "baseline": "alphabetic", "color": "black"},
          "encoding": {"text": {"field": "t"}}},
        {"data": {"name": "txt_b"}, "transform": [{"filter": "datum.sup"}], "mark": {"type": "text", "font": "Liberation Serif", "fontSize": 13, "align": "left", "baseline": "alphabetic", "color": "black", "dx": 48.5, "dy": -8},
          "encoding": {"text": {"field": "sup"}}}
      ],
      "resolve": {"scale": {"color": "independent", "strokeDash": "independent", "shape": "independent"}}
    }
  ],
  "resolve": {"scale": {"x": "independent", "y": "independent", "color": "independent", "strokeDash": "independent", "shape": "independent"}}
}
